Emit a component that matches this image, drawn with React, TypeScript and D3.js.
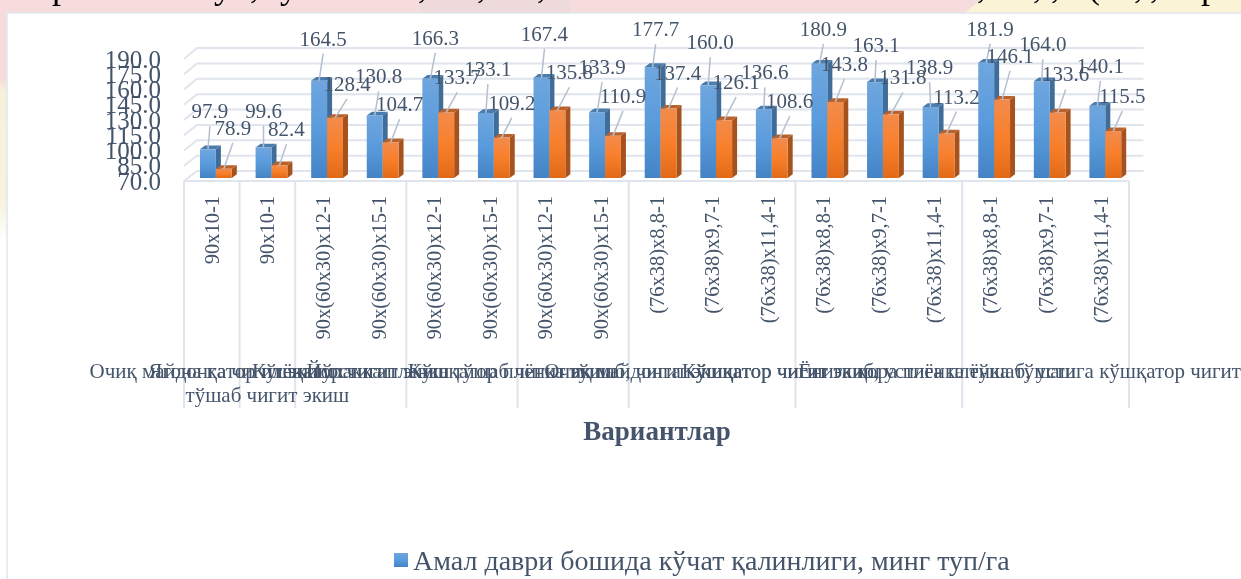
import { useEffect, useRef } from "react";
import * as d3 from "d3";

const categories = [
  "90x10-1", "90x10-1", "90x(60x30)x12-1", "90x(60x30)x15-1", "90x(60x30)x12-1", "90x(60x30)x15-1",
  "90x(60x30)x12-1", "90x(60x30)x15-1", "(76x38)x8,8-1", "(76x38)x9,7-1", "(76x38)x11,4-1",
  "(76x38)x8,8-1", "(76x38)x9,7-1", "(76x38)x11,4-1", "(76x38)x8,8-1", "(76x38)x9,7-1", "(76x38)x11,4-1",
];
const startValues = [97.9, 99.6, 164.5, 130.8, 166.3, 133.1, 167.4, 133.9, 177.7, 160.0, 136.6, 180.9, 163.1, 138.9, 181.9, 164.0, 140.1];
const endValues = [78.9, 82.4, 128.4, 104.7, 133.7, 109.2, 135.8, 110.9, 137.4, 126.1, 108.6, 143.8, 131.8, 113.2, 146.1, 133.6, 115.5];
const yTicks = [70, 85, 100, 115, 130, 145, 160, 175, 190];

// second tier of the axis: how many categories each group spans, and its label lines
const groupSizes = [1, 1, 2, 2, 2, 3, 3, 3];
const groupLabels = [
  ["Очиқ майдонга чигит экиш"],
  ["Ягона қатор плёнка остига", "тўшаб чигит экиш"],
  ["Кўшқатор чигит экиш"],
  ["Йўлакка плёнка тўшаб чигит экиш"],
  ["Кўшқатор плёнка тўшаб, чигит экиш"],
  ["Очиқ майдонга кўшқатор чигит экиш"],
  ["Кўшқатор чигит экиб, устига плёнка тўшаш"],
  ["Ёнига қора плёнка тўшаб, устига кўшқатор чигит экиш"],
];
const axisTitle = "Вариантлар";
const legendLabel = "Амал даври бошида кўчат қалинлиги, минг туп/га";

// hand-moved data labels, offset from the top of their bar
const startLabelDx = [2, 0, 4, 4, 5, 2, 3, 5, 3, 2, 1, 4, 1, -1, 4, 1, 3];
const startLabelDy = [-38, -37, -42, -39, -41, -44, -44, -45, -38, -43, -37, -35, -37, -40, -34, -37, -40];
const endLabelDx = [9, 7, 12, 9, 11, 10, 12, 10, 9, 12, 10, 9, 12, 10, 8, 8, 9];
const endLabelDy = [-41, -36, -34, -38, -35, -35, -38, -40, -36, -38, -37, -38, -37, -37, -44, -38, -35];

// what is left of the cropped line of text above the chart
const titleGlyphs = ["р", "у", ",", "у", ",", ",", ",", ",", ",", ",", "(", ",", ",", "р"];
const titleX = [52, 214, 250, 280, 418, 477, 537, 977, 1033, 1051, 1088, 1134, 1150, 1201];

const WIDTH = 1241;
const HEIGHT = 579;
const SERIF = "'Liberation Serif', serif";
const TEXT = "#44546a";
const LINE = "#e0e4ec";

export default function App() {
  const svgRef = useRef<SVGSVGElement>(null);

  useEffect(() => {
    if (!svgRef.current) return;
    document.body.style.margin = "0";

    const svg = d3.select(svgRef.current);
    svg.selectAll("*").remove();

    const defs = svg.append("defs");
    const addGradient = (id: string, stops: string[]) => {
      const gradient = defs.append("linearGradient").attr("id", id).attr("x1", "0").attr("y1", "0").attr("x2", "0").attr("y2", "1");
      stops.forEach((c, i) => {
        gradient.append("stop").attr("offset", `${(i / (stops.length - 1)) * 100}%`).attr("stop-color", c);
      });
    };
    addGradient("blue-bar", ["#6fa6de", "#5a9bdc", "#4484c6"]);
    addGradient("orange-bar", ["#f38b4c", "#f87f2a", "#e26a17"]);

    const bandTop = defs.append("linearGradient").attr("id", "corner").attr("x1", "0").attr("y1", "0").attr("x2", "0").attr("y2", "1");
    bandTop.append("stop").attr("offset", "0%").attr("stop-color", "#f6dbdc");
    bandTop.append("stop").attr("offset", "33%").attr("stop-color", "#f5dcdb");
    bandTop.append("stop").attr("offset", "38%").attr("stop-color", "#f6f1d9");
    bandTop.append("stop").attr("offset", "85%").attr("stop-color", "#f7f3de");
    bandTop.append("stop").attr("offset", "100%").attr("stop-color", "#ffffff");

    // Slide background behind the chart
    svg.append("rect").attr("width", WIDTH).attr("height", HEIGHT).attr("fill", "#ffffff");
    svg.append("rect").attr("width", 8).attr("height", 240).attr("fill", "url(#corner)");
    svg.append("rect").attr("width", WIDTH).attr("height", 13).attr("fill", "#f7dcdd");
    svg.append("rect").attr("x", 420).attr("width", 150).attr("height", 13).attr("fill", "#eedada");
    svg.append("path").attr("d", "M964,13L981,0H1241V13Z").attr("fill", "#faf3d6");

    svg.append("g")
      .selectAll("text")
      .data(titleGlyphs)
      .join("text")
      .attr("x", (_, i) => titleX[i])
      .attr("y", -2)
      .attr("font-family", SERIF)
      .attr("font-size", 36)
      .attr("fill", "#000000")
      .text((d) => d);

    // Chart panel
    svg.append("rect").attr("x", 7).attr("y", 13).attr("width", WIDTH).attr("height", HEIGHT).attr("fill", "#ffffff").attr("stroke", "#dfe7ef").attr("stroke-width", 1.5);

    const yFront = d3.scaleLinear().domain([70, 190]).range([181, 59]);
    const yBack = d3.scaleLinear().domain([70, 190]).range([171, 48]);
    const yBar = d3.scaleLinear().domain([70, 190]).range([178, 54.4]);
    const x = d3.scaleBand<number>().domain(d3.range(categories.length)).range([184, 1129]);
    const wallLeft = 197;
    const wallRight = 1143.5;
    const floorTop = 181;
    const tierBottom = 408;
    const barW = 15.9;
    const barLeft = 16;
    const depthX = 5;
    const depthY = 3.7;

    // Grid lines on the back wall and their run to the front
    const grid = svg.append("g").attr("fill", "none").attr("stroke", LINE).attr("stroke-width", 2);
    grid.selectAll("path")
      .data(yTicks)
      .join("path")
      .attr("d", (d) => `M${x.range()[0]},${yFront(d)}L${wallLeft},${yBack(d)}H${wallRight}`);

    // Floor edge and the group separators
    const boundaries = [0, ...d3.cumsum(groupSizes)];
    const rule = svg.append("g").attr("stroke", LINE).attr("stroke-width", 2);
    rule.append("line").attr("x1", x.range()[0]).attr("x2", x.range()[1]).attr("y1", floorTop).attr("y2", floorTop);
    rule.selectAll(".sep")
      .data(boundaries)
      .join("line")
      .attr("class", "sep")
      .attr("x1", (d) => 184 + d * x.step())
      .attr("x2", (d) => 184 + d * x.step())
      .attr("y1", floorTop)
      .attr("y2", tierBottom);

    // Y axis
    svg.append("g")
      .attr("transform", "translate(161,0)")
      .call(d3.axisLeft(yFront).tickValues(yTicks).tickSize(0).tickPadding(0).tickFormat((d) => d3.format(".1f")(Number(d))))
      .call((g) => g.select(".domain").remove())
      .call((g) => g.selectAll(".tick text").attr("fill", TEXT).attr("font-family", SERIF).attr("font-size", 25));

    // Bars
    const drawBars = (values: number[], offset: number, fill: string, side: string, top: string) => {
      const g = svg.append("g");
      const left = (i: number) => (x(i) as number) + barLeft + offset;
      const base = yBar(70);
      values.forEach((v, i) => {
        const l = left(i);
        const r = l + barW;
        const t = yBar(v);
        g.append("path")
          .attr("d", `M${r},${t}L${r + depthX},${t - depthY}V${base - depthY}L${r},${base}Z`)
          .attr("fill", side);
        g.append("path")
          .attr("d", `M${l},${t}L${l + depthX},${t - depthY}H${r + depthX}L${r},${t}Z`)
          .attr("fill", top);
        g.append("rect").attr("x", l).attr("y", t).attr("width", barW).attr("height", base - t).attr("fill", fill);
      });
    };
    drawBars(startValues, 0, "url(#blue-bar)", "#3f6c99", "#4a7dae");
    drawBars(endValues, barW, "url(#orange-bar)", "#a6521d", "#b9622c");

    // Data labels with leader lines
    const drawLabels = (values: number[], offset: number, dxs: number[], dys: number[]) => {
      const g = svg.append("g");
      values.forEach((v, i) => {
        const ax = (x(i) as number) + barLeft + offset + barW / 2;
        const ay = yBar(v);
        const lx = ax + dxs[i];
        const ly = ay + dys[i];
        g.append("line")
          .attr("x1", lx)
          .attr("y1", ly + 15)
          .attr("x2", ax)
          .attr("y2", ay)
          .attr("stroke", "#b4bfcf")
          .attr("stroke-width", 1.5);
      });
      values.forEach((v, i) => {
        const ax = (x(i) as number) + barLeft + offset + barW / 2;
        g.append("text")
          .attr("x", ax + dxs[i])
          .attr("y", yBar(v) + dys[i] + 7)
          .attr("text-anchor", "middle")
          .attr("font-family", SERIF)
          .attr("font-size", 21)
          .attr("fill", TEXT)
          .text(d3.format(".1f")(v));
      });
    };
    drawLabels(startValues, 0, startLabelDx, startLabelDy);
    drawLabels(endValues, barW, endLabelDx, endLabelDy);

    // Rotated category labels
    svg.append("g")
      .selectAll("text")
      .data(categories)
      .join("text")
      .attr("transform", (_, i) => `translate(${(x(i) as number) + x.bandwidth() / 2 + 7},196) rotate(-90)`)
      .attr("text-anchor", "end")
      .attr("font-family", SERIF)
      .attr("font-size", 20.5)
      .attr("fill", TEXT)
      .text((d) => d);

    // Group labels, they overlap each other as in the source
    const groups = svg.append("g").attr("font-family", SERIF).attr("font-size", 21).attr("fill", TEXT).attr("text-anchor", "middle");
    groupLabels.forEach((lines, i) => {
      const cx = 184 + ((boundaries[i] + boundaries[i + 1]) / 2) * x.step();
      lines.forEach((line, j) => {
        groups.append("text").attr("x", cx).attr("y", 378 + j * 24).text(line);
      });
    });

    svg.append("text")
      .attr("x", 657)
      .attr("y", 440)
      .attr("text-anchor", "middle")
      .attr("font-family", SERIF)
      .attr("font-size", 27)
      .attr("font-weight", "bold")
      .attr("fill", TEXT)
      .text(axisTitle);

    // Legend
    svg.append("rect").attr("x", 394).attr("y", 553).attr("width", 14).attr("height", 14).attr("fill", "url(#blue-bar)");
    svg.append("text")
      .attr("x", 413)
      .attr("y", 570)
      .attr("font-family", SERIF)
      .attr("font-size", 28)
      .attr("fill", TEXT)
      .text(legendLabel);
  }, []);

  return (
    <svg
      ref={svgRef}
      width={WIDTH}
      height={HEIGHT}
      style={{ position: "fixed", left: 0, top: 0, display: "block" }}
      role="img"
      aria-label="Plant density by variant"
    />
  );
}
